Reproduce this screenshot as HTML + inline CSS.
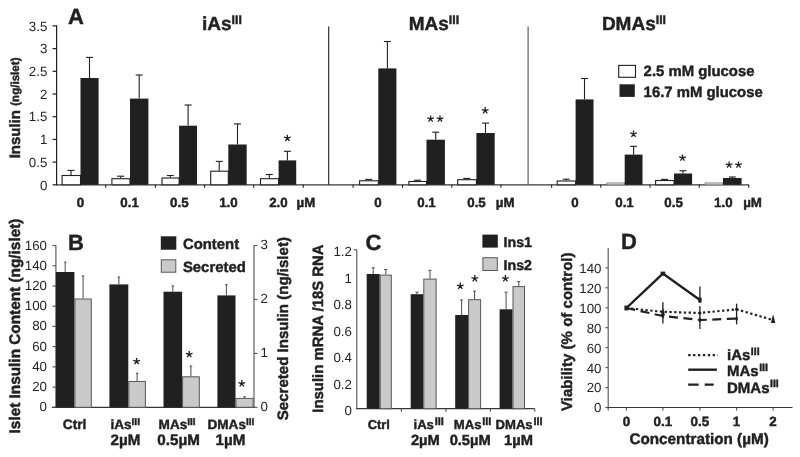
<!DOCTYPE html><html><head><meta charset="utf-8"><title>Figure</title><style>html,body{margin:0;padding:0;background:#fff}svg{display:block;filter:grayscale(1)}text{font-family:"Liberation Sans",sans-serif;fill:#231f20;text-rendering:geometricPrecision}text[font-weight=bold]{stroke:#231f20;stroke-width:0.45px;stroke-linejoin:round}</style></head><body>
<svg width="800" height="457" viewBox="0 0 800 457">
<rect x="0.0" y="0.0" width="800.0" height="457.0" fill="#fff"/>
<line x1="56.6" y1="25.3" x2="56.6" y2="185.4" stroke="#231f20" stroke-width="1.2" />
<line x1="56.6" y1="184.8" x2="748.9" y2="184.8" stroke="#3a3637" stroke-width="1.3" />
<line x1="52.6" y1="184.8" x2="56.6" y2="184.8" stroke="#231f20" stroke-width="1.2" />
<text x="47.3" y="189.5" font-size="13.3" text-anchor="end" >0</text>
<line x1="52.6" y1="162.1" x2="56.6" y2="162.1" stroke="#231f20" stroke-width="1.2" />
<text x="47.3" y="166.8" font-size="13.3" text-anchor="end" >0.5</text>
<line x1="52.6" y1="139.4" x2="56.6" y2="139.4" stroke="#231f20" stroke-width="1.2" />
<text x="47.3" y="144.1" font-size="13.3" text-anchor="end" >1</text>
<line x1="52.6" y1="116.7" x2="56.6" y2="116.7" stroke="#231f20" stroke-width="1.2" />
<text x="47.3" y="121.4" font-size="13.3" text-anchor="end" >1.5</text>
<line x1="52.6" y1="94.0" x2="56.6" y2="94.0" stroke="#231f20" stroke-width="1.2" />
<text x="47.3" y="98.7" font-size="13.3" text-anchor="end" >2</text>
<line x1="52.6" y1="71.3" x2="56.6" y2="71.3" stroke="#231f20" stroke-width="1.2" />
<text x="47.3" y="76.0" font-size="13.3" text-anchor="end" >2.5</text>
<line x1="52.6" y1="48.6" x2="56.6" y2="48.6" stroke="#231f20" stroke-width="1.2" />
<text x="47.3" y="53.3" font-size="13.3" text-anchor="end" >3</text>
<line x1="52.6" y1="25.9" x2="56.6" y2="25.9" stroke="#231f20" stroke-width="1.2" />
<text x="47.3" y="30.6" font-size="13.3" text-anchor="end" >3.5</text>
<line x1="105.7" y1="184.8" x2="105.7" y2="187.8" stroke="#231f20" stroke-width="1.1" />
<line x1="155.4" y1="184.8" x2="155.4" y2="187.8" stroke="#231f20" stroke-width="1.1" />
<line x1="204.6" y1="184.8" x2="204.6" y2="187.8" stroke="#231f20" stroke-width="1.1" />
<line x1="253.7" y1="184.8" x2="253.7" y2="187.8" stroke="#231f20" stroke-width="1.1" />
<line x1="303.3" y1="184.8" x2="303.3" y2="187.8" stroke="#231f20" stroke-width="1.1" />
<line x1="353.1" y1="184.8" x2="353.1" y2="187.8" stroke="#231f20" stroke-width="1.1" />
<line x1="402.6" y1="184.8" x2="402.6" y2="187.8" stroke="#231f20" stroke-width="1.1" />
<line x1="451.8" y1="184.8" x2="451.8" y2="187.8" stroke="#231f20" stroke-width="1.1" />
<line x1="500.9" y1="184.8" x2="500.9" y2="187.8" stroke="#231f20" stroke-width="1.1" />
<line x1="551.6" y1="184.8" x2="551.6" y2="187.8" stroke="#231f20" stroke-width="1.1" />
<line x1="600.8" y1="184.8" x2="600.8" y2="187.8" stroke="#231f20" stroke-width="1.1" />
<line x1="650.0" y1="184.8" x2="650.0" y2="187.8" stroke="#231f20" stroke-width="1.1" />
<line x1="699.2" y1="184.8" x2="699.2" y2="187.8" stroke="#231f20" stroke-width="1.1" />
<line x1="748.7" y1="184.8" x2="748.7" y2="187.8" stroke="#231f20" stroke-width="1.1" />
<line x1="328.7" y1="26.4" x2="328.7" y2="184.8" stroke="#231f20" stroke-width="1.1" />
<line x1="528.1" y1="26.4" x2="528.1" y2="184.8" stroke="#555152" stroke-width="1.1" />
<text x="68.0" y="24.4" font-size="22" font-weight="bold" text-anchor="start" >A</text>
<rect x="62.1" y="175.5" width="18.4" height="9.3" fill="#fff" stroke="#231f20" stroke-width="1.1"/>
<rect x="80.5" y="78.0" width="18.1" height="106.8" fill="#231f20"/>
<line x1="71.0" y1="175.0" x2="71.0" y2="170.4" stroke="#231f20" stroke-width="1.1" />
<line x1="67.5" y1="170.4" x2="74.5" y2="170.4" stroke="#231f20" stroke-width="1.1" />
<line x1="89.5" y1="78.0" x2="89.5" y2="57.4" stroke="#231f20" stroke-width="1.1" />
<line x1="86.0" y1="57.4" x2="93.0" y2="57.4" stroke="#231f20" stroke-width="1.1" />
<rect x="111.9" y="178.7" width="18.1" height="6.1" fill="#fff" stroke="#231f20" stroke-width="1.1"/>
<rect x="130.0" y="98.6" width="18.4" height="86.2" fill="#231f20"/>
<line x1="120.7" y1="178.2" x2="120.7" y2="176.2" stroke="#231f20" stroke-width="1.1" />
<line x1="117.2" y1="176.2" x2="124.2" y2="176.2" stroke="#231f20" stroke-width="1.1" />
<line x1="139.2" y1="98.6" x2="139.2" y2="75.0" stroke="#231f20" stroke-width="1.1" />
<line x1="135.7" y1="75.0" x2="142.7" y2="75.0" stroke="#231f20" stroke-width="1.1" />
<rect x="162.0" y="178.0" width="17.1" height="6.8" fill="#fff" stroke="#231f20" stroke-width="1.1"/>
<rect x="179.1" y="125.7" width="17.9" height="59.1" fill="#231f20"/>
<line x1="170.3" y1="177.5" x2="170.3" y2="175.5" stroke="#231f20" stroke-width="1.1" />
<line x1="166.8" y1="175.5" x2="173.8" y2="175.5" stroke="#231f20" stroke-width="1.1" />
<line x1="188.1" y1="125.7" x2="188.1" y2="105.0" stroke="#231f20" stroke-width="1.1" />
<line x1="184.6" y1="105.0" x2="191.6" y2="105.0" stroke="#231f20" stroke-width="1.1" />
<rect x="210.7" y="171.2" width="17.6" height="13.6" fill="#fff" stroke="#231f20" stroke-width="1.1"/>
<rect x="228.3" y="144.5" width="18.4" height="40.3" fill="#231f20"/>
<line x1="219.2" y1="170.7" x2="219.2" y2="161.4" stroke="#231f20" stroke-width="1.1" />
<line x1="215.8" y1="161.4" x2="222.8" y2="161.4" stroke="#231f20" stroke-width="1.1" />
<line x1="237.5" y1="144.5" x2="237.5" y2="123.9" stroke="#231f20" stroke-width="1.1" />
<line x1="234.0" y1="123.9" x2="241.0" y2="123.9" stroke="#231f20" stroke-width="1.1" />
<rect x="260.5" y="178.7" width="18.1" height="6.1" fill="#fff" stroke="#231f20" stroke-width="1.1"/>
<rect x="278.6" y="160.4" width="17.6" height="24.4" fill="#231f20"/>
<line x1="269.3" y1="178.2" x2="269.3" y2="174.5" stroke="#231f20" stroke-width="1.1" />
<line x1="265.8" y1="174.5" x2="272.8" y2="174.5" stroke="#231f20" stroke-width="1.1" />
<line x1="287.4" y1="160.4" x2="287.4" y2="151.3" stroke="#231f20" stroke-width="1.1" />
<line x1="283.9" y1="151.3" x2="290.9" y2="151.3" stroke="#231f20" stroke-width="1.1" />
<rect x="359.6" y="180.8" width="18.7" height="4.0" fill="#fff" stroke="#231f20" stroke-width="1.1"/>
<rect x="378.3" y="68.4" width="18.1" height="116.4" fill="#231f20"/>
<line x1="368.7" y1="180.3" x2="368.7" y2="179.4" stroke="#231f20" stroke-width="1.1" />
<line x1="365.2" y1="179.4" x2="372.2" y2="179.4" stroke="#231f20" stroke-width="1.1" />
<line x1="387.4" y1="68.4" x2="387.4" y2="41.5" stroke="#231f20" stroke-width="1.1" />
<line x1="383.9" y1="41.5" x2="390.9" y2="41.5" stroke="#231f20" stroke-width="1.1" />
<rect x="408.9" y="181.5" width="17.6" height="3.3" fill="#fff" stroke="#231f20" stroke-width="1.1"/>
<rect x="426.5" y="139.7" width="18.4" height="45.1" fill="#231f20"/>
<line x1="417.4" y1="181.0" x2="417.4" y2="180.2" stroke="#231f20" stroke-width="1.1" />
<line x1="413.9" y1="180.2" x2="420.9" y2="180.2" stroke="#231f20" stroke-width="1.1" />
<line x1="435.7" y1="139.7" x2="435.7" y2="132.2" stroke="#231f20" stroke-width="1.1" />
<line x1="432.2" y1="132.2" x2="439.2" y2="132.2" stroke="#231f20" stroke-width="1.1" />
<rect x="457.7" y="179.7" width="18.7" height="5.1" fill="#fff" stroke="#231f20" stroke-width="1.1"/>
<rect x="476.4" y="133.0" width="18.3" height="51.8" fill="#231f20"/>
<line x1="466.8" y1="179.2" x2="466.8" y2="178.4" stroke="#231f20" stroke-width="1.1" />
<line x1="463.3" y1="178.4" x2="470.3" y2="178.4" stroke="#231f20" stroke-width="1.1" />
<line x1="485.5" y1="133.0" x2="485.5" y2="123.1" stroke="#231f20" stroke-width="1.1" />
<line x1="482.0" y1="123.1" x2="489.0" y2="123.1" stroke="#231f20" stroke-width="1.1" />
<rect x="557.2" y="181.0" width="18.4" height="3.8" fill="#fff" stroke="#231f20" stroke-width="1.1"/>
<rect x="575.6" y="99.4" width="17.9" height="85.4" fill="#231f20"/>
<line x1="566.2" y1="180.5" x2="566.2" y2="179.2" stroke="#231f20" stroke-width="1.1" />
<line x1="562.7" y1="179.2" x2="569.7" y2="179.2" stroke="#231f20" stroke-width="1.1" />
<line x1="584.5" y1="99.4" x2="584.5" y2="78.5" stroke="#231f20" stroke-width="1.1" />
<line x1="581.0" y1="78.5" x2="588.0" y2="78.5" stroke="#231f20" stroke-width="1.1" />
<rect x="607.0" y="183.0" width="17.7" height="1.8" fill="#fff" stroke="#8a8788" stroke-width="1.1"/>
<rect x="624.7" y="154.6" width="17.8" height="30.2" fill="#231f20"/>
<line x1="633.6" y1="154.6" x2="633.6" y2="146.3" stroke="#231f20" stroke-width="1.1" />
<line x1="630.1" y1="146.3" x2="637.1" y2="146.3" stroke="#231f20" stroke-width="1.1" />
<rect x="655.6" y="180.5" width="18.4" height="4.3" fill="#fff" stroke="#231f20" stroke-width="1.1"/>
<rect x="674.0" y="173.5" width="18.1" height="11.3" fill="#231f20"/>
<line x1="664.5" y1="180.0" x2="664.5" y2="179.4" stroke="#231f20" stroke-width="1.1" />
<line x1="661.0" y1="179.4" x2="668.0" y2="179.4" stroke="#231f20" stroke-width="1.1" />
<line x1="683.0" y1="173.5" x2="683.0" y2="170.7" stroke="#231f20" stroke-width="1.1" />
<line x1="679.5" y1="170.7" x2="686.5" y2="170.7" stroke="#231f20" stroke-width="1.1" />
<rect x="705.2" y="183.0" width="17.8" height="1.8" fill="#fff" stroke="#8a8788" stroke-width="1.1"/>
<rect x="723.0" y="178.0" width="18.6" height="6.8" fill="#231f20"/>
<line x1="732.3" y1="178.0" x2="732.3" y2="177.0" stroke="#231f20" stroke-width="1.1" />
<line x1="728.8" y1="177.0" x2="735.8" y2="177.0" stroke="#231f20" stroke-width="1.1" />
<path d="M287.4,138.2L287.40,134.70M287.4,138.2L290.73,137.12M287.4,138.2L289.46,141.03M287.4,138.2L285.34,141.03M287.4,138.2L284.07,137.12" stroke="#231f20" stroke-width="1.3" fill="none"/>
<path d="M430.6,118.9L430.60,115.40M430.6,118.9L433.93,117.82M430.6,118.9L432.66,121.73M430.6,118.9L428.54,121.73M430.6,118.9L427.27,117.82" stroke="#231f20" stroke-width="1.3" fill="none"/>
<path d="M440.0,118.9L440.00,115.40M440.0,118.9L443.33,117.82M440.0,118.9L442.06,121.73M440.0,118.9L437.94,121.73M440.0,118.9L436.67,117.82" stroke="#231f20" stroke-width="1.3" fill="none"/>
<path d="M485.2,110.6L485.20,107.10M485.2,110.6L488.53,109.52M485.2,110.6L487.26,113.43M485.2,110.6L483.14,113.43M485.2,110.6L481.87,109.52" stroke="#231f20" stroke-width="1.3" fill="none"/>
<path d="M633.5,134.0L633.50,130.50M633.5,134.0L636.83,132.92M633.5,134.0L635.56,136.83M633.5,134.0L631.44,136.83M633.5,134.0L630.17,132.92" stroke="#231f20" stroke-width="1.3" fill="none"/>
<path d="M682.5,157.9L682.50,154.40M682.5,157.9L685.83,156.82M682.5,157.9L684.56,160.73M682.5,157.9L680.44,160.73M682.5,157.9L679.17,156.82" stroke="#231f20" stroke-width="1.3" fill="none"/>
<path d="M729.1,164.9L729.10,161.40M729.1,164.9L732.43,163.82M729.1,164.9L731.16,167.73M729.1,164.9L727.04,167.73M729.1,164.9L725.77,163.82" stroke="#231f20" stroke-width="1.3" fill="none"/>
<path d="M738.5,164.9L738.50,161.40M738.5,164.9L741.83,163.82M738.5,164.9L740.56,167.73M738.5,164.9L736.44,167.73M738.5,164.9L735.17,163.82" stroke="#231f20" stroke-width="1.3" fill="none"/>
<text x="202.0" y="30.0" font-size="19" font-weight="bold" text-anchor="start" >iAs<tspan font-size="12.3" dy="-5.9" dx="0">III</tspan></text>
<text x="408.7" y="30.0" font-size="19" font-weight="bold" text-anchor="start" >MAs<tspan font-size="12.3" dy="-5.9" dx="0">III</tspan></text>
<text x="601.9" y="30.0" font-size="19" font-weight="bold" text-anchor="start" >DMAs<tspan font-size="12.3" dy="-5.9" dx="0">III</tspan></text>
<text x="80.5" y="206.7" font-size="13.3" font-weight="bold" text-anchor="middle" >0</text>
<text x="129.6" y="206.7" font-size="13.3" font-weight="bold" text-anchor="middle" >0.1</text>
<text x="179.3" y="206.7" font-size="13.3" font-weight="bold" text-anchor="middle" >0.5</text>
<text x="228.4" y="206.7" font-size="13.3" font-weight="bold" text-anchor="middle" >1.0</text>
<text x="278.4" y="206.7" font-size="13.3" font-weight="bold" text-anchor="middle" >2.0</text>
<text x="377.9" y="206.7" font-size="13.3" font-weight="bold" text-anchor="middle" >0</text>
<text x="426.5" y="206.7" font-size="13.3" font-weight="bold" text-anchor="middle" >0.1</text>
<text x="476.5" y="206.7" font-size="13.3" font-weight="bold" text-anchor="middle" >0.5</text>
<text x="575.0" y="206.7" font-size="13.3" font-weight="bold" text-anchor="middle" >0</text>
<text x="624.5" y="206.7" font-size="13.3" font-weight="bold" text-anchor="middle" >0.1</text>
<text x="673.6" y="206.7" font-size="13.3" font-weight="bold" text-anchor="middle" >0.5</text>
<text x="723.3" y="206.7" font-size="13.3" font-weight="bold" text-anchor="middle" >1.0</text>
<text x="296.6" y="206.7" font-size="13.3" font-weight="bold" text-anchor="start" >µM</text>
<text x="495.8" y="206.7" font-size="13.3" font-weight="bold" text-anchor="start" >µM</text>
<text x="743.2" y="206.7" font-size="13.3" font-weight="bold" text-anchor="start" >µM</text>
<rect x="618.7" y="65.4" width="16.8" height="11.9" fill="#fff" stroke="#231f20" stroke-width="1.1"/>
<rect x="619.5" y="84.3" width="15.3" height="12.6" fill="#231f20"/>
<text x="643.6" y="76.2" font-size="14.9" font-weight="bold" text-anchor="start" >2.5 mM glucose</text>
<text x="643.6" y="96.5" font-size="14.9" font-weight="bold" text-anchor="start" >16.7 mM glucose</text>
<text transform="translate(20.3,158.3) rotate(-90)" font-weight="bold" font-size="15">Insulin <tspan font-size="11.6" dy="-1.2">(ng/islet)</tspan></text>
<line x1="55.9" y1="245.0" x2="55.9" y2="407.8" stroke="#555152" stroke-width="1.1" />
<line x1="51.9" y1="407.3" x2="255.0" y2="407.3" stroke="#3a3637" stroke-width="1.2" />
<line x1="52.5" y1="407.3" x2="55.9" y2="407.3" stroke="#555152" stroke-width="1.1" />
<text x="47.0" y="411.3" font-size="13.3" text-anchor="end" >0</text>
<line x1="52.5" y1="387.1" x2="55.9" y2="387.1" stroke="#555152" stroke-width="1.1" />
<text x="47.0" y="391.1" font-size="13.3" text-anchor="end" >20</text>
<line x1="52.5" y1="366.9" x2="55.9" y2="366.9" stroke="#555152" stroke-width="1.1" />
<text x="47.0" y="370.9" font-size="13.3" text-anchor="end" >40</text>
<line x1="52.5" y1="346.6" x2="55.9" y2="346.6" stroke="#555152" stroke-width="1.1" />
<text x="47.0" y="350.6" font-size="13.3" text-anchor="end" >60</text>
<line x1="52.5" y1="326.4" x2="55.9" y2="326.4" stroke="#555152" stroke-width="1.1" />
<text x="47.0" y="330.4" font-size="13.3" text-anchor="end" >80</text>
<line x1="52.5" y1="306.2" x2="55.9" y2="306.2" stroke="#555152" stroke-width="1.1" />
<text x="47.0" y="310.2" font-size="13.3" text-anchor="end" >100</text>
<line x1="52.5" y1="286.0" x2="55.9" y2="286.0" stroke="#555152" stroke-width="1.1" />
<text x="47.0" y="290.0" font-size="13.3" text-anchor="end" >120</text>
<line x1="52.5" y1="265.7" x2="55.9" y2="265.7" stroke="#555152" stroke-width="1.1" />
<text x="47.0" y="269.7" font-size="13.3" text-anchor="end" >140</text>
<line x1="52.5" y1="245.5" x2="55.9" y2="245.5" stroke="#555152" stroke-width="1.1" />
<text x="47.0" y="249.5" font-size="13.3" text-anchor="end" >160</text>
<line x1="254.0" y1="245.0" x2="254.0" y2="407.8" stroke="#555152" stroke-width="1.1" />
<line x1="254.0" y1="407.3" x2="257.5" y2="407.3" stroke="#555152" stroke-width="1.1" />
<text x="260.5" y="411.0" font-size="13.3" text-anchor="start" >0</text>
<line x1="254.0" y1="353.4" x2="257.5" y2="353.4" stroke="#555152" stroke-width="1.1" />
<text x="260.5" y="357.1" font-size="13.3" text-anchor="start" >1</text>
<line x1="254.0" y1="299.4" x2="257.5" y2="299.4" stroke="#555152" stroke-width="1.1" />
<text x="260.5" y="303.1" font-size="13.3" text-anchor="start" >2</text>
<line x1="254.0" y1="245.5" x2="257.5" y2="245.5" stroke="#555152" stroke-width="1.1" />
<text x="260.5" y="249.2" font-size="13.3" text-anchor="start" >3</text>
<text x="68.0" y="249.8" font-size="22" font-weight="bold" text-anchor="start" >B</text>
<rect x="55.9" y="272.0" width="18.5" height="135.3" fill="#231f20"/>
<rect x="74.9" y="299.0" width="16.4" height="108.3" fill="#c9cacc" stroke="#58585a" stroke-width="1"/>
<line x1="65.2" y1="272.0" x2="65.2" y2="262.2" stroke="#3a3637" stroke-width="0.9" />
<line x1="63.9" y1="262.2" x2="66.4" y2="262.2" stroke="#3a3637" stroke-width="0.9" />
<line x1="83.1" y1="298.5" x2="83.1" y2="276.0" stroke="#3a3637" stroke-width="0.9" />
<line x1="81.8" y1="276.0" x2="84.3" y2="276.0" stroke="#3a3637" stroke-width="0.9" />
<rect x="109.4" y="284.4" width="18.9" height="122.9" fill="#231f20"/>
<rect x="128.8" y="381.5" width="16.6" height="25.8" fill="#c9cacc" stroke="#58585a" stroke-width="1"/>
<line x1="118.9" y1="284.4" x2="118.9" y2="277.0" stroke="#3a3637" stroke-width="0.9" />
<line x1="117.6" y1="277.0" x2="120.1" y2="277.0" stroke="#3a3637" stroke-width="0.9" />
<line x1="137.1" y1="381.0" x2="137.1" y2="373.3" stroke="#3a3637" stroke-width="0.9" />
<line x1="135.9" y1="373.3" x2="138.4" y2="373.3" stroke="#3a3637" stroke-width="0.9" />
<rect x="163.5" y="291.7" width="18.6" height="115.6" fill="#231f20"/>
<rect x="182.6" y="376.8" width="16.7" height="30.5" fill="#c9cacc" stroke="#58585a" stroke-width="1"/>
<line x1="172.8" y1="291.7" x2="172.8" y2="285.9" stroke="#3a3637" stroke-width="0.9" />
<line x1="171.6" y1="285.9" x2="174.1" y2="285.9" stroke="#3a3637" stroke-width="0.9" />
<line x1="190.9" y1="376.3" x2="190.9" y2="366.0" stroke="#3a3637" stroke-width="0.9" />
<line x1="189.7" y1="366.0" x2="192.2" y2="366.0" stroke="#3a3637" stroke-width="0.9" />
<rect x="217.4" y="295.4" width="18.1" height="111.9" fill="#231f20"/>
<rect x="236.0" y="398.4" width="17.1" height="8.9" fill="#c9cacc" stroke="#58585a" stroke-width="1"/>
<line x1="226.4" y1="295.4" x2="226.4" y2="284.6" stroke="#3a3637" stroke-width="0.9" />
<line x1="225.2" y1="284.6" x2="227.7" y2="284.6" stroke="#3a3637" stroke-width="0.9" />
<line x1="244.6" y1="397.9" x2="244.6" y2="396.8" stroke="#3a3637" stroke-width="0.9" />
<line x1="243.3" y1="396.8" x2="245.8" y2="396.8" stroke="#3a3637" stroke-width="0.9" />
<path d="M136.6,361.4L136.60,357.90M136.6,361.4L139.93,360.32M136.6,361.4L138.66,364.23M136.6,361.4L134.54,364.23M136.6,361.4L133.27,360.32" stroke="#231f20" stroke-width="1.3" fill="none"/>
<path d="M189.2,354.4L189.20,350.90M189.2,354.4L192.53,353.32M189.2,354.4L191.26,357.23M189.2,354.4L187.14,357.23M189.2,354.4L185.87,353.32" stroke="#231f20" stroke-width="1.3" fill="none"/>
<path d="M241.8,383.6L241.80,380.10M241.8,383.6L245.13,382.52M241.8,383.6L243.86,386.43M241.8,383.6L239.74,386.43M241.8,383.6L238.47,382.52" stroke="#231f20" stroke-width="1.3" fill="none"/>
<rect x="160.8" y="236.3" width="15.5" height="13.4" fill="#231f20"/>
<rect x="161.3" y="259.8" width="14.5" height="12.4" fill="#c9cacc" stroke="#58585a" stroke-width="1"/>
<text x="182.9" y="249.4" font-size="14.9" font-weight="bold" text-anchor="start" >Content</text>
<text x="182.9" y="271.8" font-size="14.9" font-weight="bold" text-anchor="start" >Secreted</text>
<text x="74.6" y="429.4" font-size="13.7" font-weight="bold" text-anchor="middle" >Ctrl</text>
<text x="125.2" y="429.4" font-size="13.6" font-weight="bold" text-anchor="middle" >iAs<tspan font-size="10" dy="-4.9" dx="0">III</tspan></text>
<text x="125.4" y="445.0" font-size="15.2" font-weight="bold" text-anchor="middle" >2µM</text>
<text x="177.1" y="429.4" font-size="13.6" font-weight="bold" text-anchor="middle" >MAs<tspan font-size="10" dy="-4.9" dx="0">III</tspan></text>
<text x="178.6" y="445.0" font-size="15.2" font-weight="bold" text-anchor="middle" >0.5µM</text>
<text x="230.9" y="429.4" font-size="13.6" font-weight="bold" text-anchor="middle" >DMAs<tspan font-size="10" dy="-4.9" dx="0">III</tspan></text>
<text x="230.5" y="445.0" font-size="15.2" font-weight="bold" text-anchor="middle" >1µM</text>
<text transform="translate(20.0,433.4) rotate(-90)" font-size="15.35" font-weight="bold" text-anchor="start">Islet Insulin Content (ng/islet)</text>
<text transform="translate(288.0,420.2) rotate(-90)" font-size="15.05" font-weight="bold" text-anchor="start">Secreted Insulin (ng/islet)</text>
<line x1="356.8" y1="249.8" x2="356.8" y2="409.2" stroke="#555152" stroke-width="1.1" />
<line x1="356.3" y1="408.7" x2="534.8" y2="408.7" stroke="#3a3637" stroke-width="1.2" />
<text x="351.9" y="256.2" font-size="13.3" text-anchor="end" >1.2</text>
<text x="351.9" y="282.7" font-size="13.3" text-anchor="end" >1</text>
<text x="351.9" y="309.2" font-size="13.3" text-anchor="end" >0.8</text>
<text x="351.9" y="335.7" font-size="13.3" text-anchor="end" >0.6</text>
<text x="351.9" y="362.2" font-size="13.3" text-anchor="end" >0.4</text>
<text x="351.9" y="388.7" font-size="13.3" text-anchor="end" >0.2</text>
<text x="351.9" y="415.2" font-size="13.3" text-anchor="end" >0</text>
<line x1="353.8" y1="249.8" x2="356.8" y2="249.8" stroke="#555152" stroke-width="1.1" />
<line x1="401.4" y1="408.7" x2="401.4" y2="411.7" stroke="#555152" stroke-width="1.1" />
<line x1="445.9" y1="408.7" x2="445.9" y2="411.7" stroke="#555152" stroke-width="1.1" />
<line x1="490.4" y1="408.7" x2="490.4" y2="411.7" stroke="#555152" stroke-width="1.1" />
<line x1="534.8" y1="408.7" x2="534.8" y2="411.7" stroke="#555152" stroke-width="1.1" />
<text x="365.5" y="250.2" font-size="22" font-weight="bold" text-anchor="start" >C</text>
<rect x="366.7" y="274.0" width="13.0" height="134.7" fill="#231f20"/>
<rect x="380.2" y="275.1" width="11.1" height="133.6" fill="#c9cacc" stroke="#58585a" stroke-width="1"/>
<line x1="373.2" y1="274.0" x2="373.2" y2="267.8" stroke="#3a3637" stroke-width="0.9" />
<line x1="371.7" y1="267.8" x2="374.7" y2="267.8" stroke="#3a3637" stroke-width="0.9" />
<line x1="385.8" y1="274.6" x2="385.8" y2="269.5" stroke="#3a3637" stroke-width="0.9" />
<line x1="384.2" y1="269.5" x2="387.2" y2="269.5" stroke="#3a3637" stroke-width="0.9" />
<rect x="410.7" y="294.2" width="12.6" height="114.5" fill="#231f20"/>
<rect x="423.8" y="279.1" width="12.3" height="129.6" fill="#c9cacc" stroke="#58585a" stroke-width="1"/>
<line x1="417.0" y1="294.2" x2="417.0" y2="292.2" stroke="#3a3637" stroke-width="0.9" />
<line x1="415.5" y1="292.2" x2="418.5" y2="292.2" stroke="#3a3637" stroke-width="0.9" />
<line x1="430.0" y1="278.6" x2="430.0" y2="270.3" stroke="#3a3637" stroke-width="0.9" />
<line x1="428.5" y1="270.3" x2="431.5" y2="270.3" stroke="#3a3637" stroke-width="0.9" />
<rect x="455.2" y="315.0" width="12.9" height="93.7" fill="#231f20"/>
<rect x="468.6" y="299.7" width="12.0" height="109.0" fill="#c9cacc" stroke="#58585a" stroke-width="1"/>
<line x1="461.6" y1="315.0" x2="461.6" y2="300.0" stroke="#3a3637" stroke-width="0.9" />
<line x1="460.1" y1="300.0" x2="463.1" y2="300.0" stroke="#3a3637" stroke-width="0.9" />
<line x1="474.6" y1="299.2" x2="474.6" y2="291.2" stroke="#3a3637" stroke-width="0.9" />
<line x1="473.1" y1="291.2" x2="476.1" y2="291.2" stroke="#3a3637" stroke-width="0.9" />
<rect x="499.6" y="309.3" width="12.9" height="99.4" fill="#231f20"/>
<rect x="513.0" y="286.6" width="11.5" height="122.1" fill="#c9cacc" stroke="#58585a" stroke-width="1"/>
<line x1="506.1" y1="309.3" x2="506.1" y2="292.2" stroke="#3a3637" stroke-width="0.9" />
<line x1="504.6" y1="292.2" x2="507.6" y2="292.2" stroke="#3a3637" stroke-width="0.9" />
<line x1="518.8" y1="286.1" x2="518.8" y2="281.6" stroke="#3a3637" stroke-width="0.9" />
<line x1="517.2" y1="281.6" x2="520.2" y2="281.6" stroke="#3a3637" stroke-width="0.9" />
<path d="M460.3,286.1L460.30,282.60M460.3,286.1L463.63,285.02M460.3,286.1L462.36,288.93M460.3,286.1L458.24,288.93M460.3,286.1L456.97,285.02" stroke="#231f20" stroke-width="1.3" fill="none"/>
<path d="M474.8,278.6L474.80,275.10M474.8,278.6L478.13,277.52M474.8,278.6L476.86,281.43M474.8,278.6L472.74,281.43M474.8,278.6L471.47,277.52" stroke="#231f20" stroke-width="1.3" fill="none"/>
<path d="M505.4,278.6L505.40,275.10M505.4,278.6L508.73,277.52M505.4,278.6L507.46,281.43M505.4,278.6L503.34,281.43M505.4,278.6L502.07,277.52" stroke="#231f20" stroke-width="1.3" fill="none"/>
<rect x="482.4" y="234.6" width="15.4" height="13.0" fill="#231f20"/>
<rect x="482.9" y="257.7" width="14.4" height="12.8" fill="#c9cacc" stroke="#58585a" stroke-width="1"/>
<text x="503.6" y="247.1" font-size="14.2" font-weight="bold" text-anchor="start" >Ins1</text>
<text x="503.6" y="269.8" font-size="14.2" font-weight="bold" text-anchor="start" >Ins2</text>
<text x="378.8" y="429.3" font-size="12.9" font-weight="bold" text-anchor="middle" >Ctrl</text>
<text x="428.7" y="429.3" font-size="13.1" font-weight="bold" text-anchor="middle" >iAs<tspan font-size="11" dy="-4.6" dx="0.8">III</tspan></text>
<text x="425.4" y="445.4" font-size="14.7" font-weight="bold" text-anchor="middle" >2µM</text>
<text x="472.6" y="429.3" font-size="13.1" font-weight="bold" text-anchor="middle" >MAs<tspan font-size="11" dy="-4.6" dx="0.8">III</tspan></text>
<text x="470.2" y="445.4" font-size="14.7" font-weight="bold" text-anchor="middle" >0.5µM</text>
<text x="519.1" y="429.3" font-size="13.1" font-weight="bold" text-anchor="middle" >DMAs<tspan font-size="11" dy="-4.6" dx="0.8">III</tspan></text>
<text x="518.5" y="445.4" font-size="14.7" font-weight="bold" text-anchor="middle" >1µM</text>
<text transform="translate(322.9,412.7) rotate(-90)" font-size="14.9" font-weight="bold" text-anchor="start">Insulin mRNA /18S RNA</text>
<line x1="608.2" y1="248.1" x2="608.2" y2="410.5" stroke="#555152" stroke-width="1.1" />
<line x1="606.2" y1="407.5" x2="792.5" y2="407.5" stroke="#3a3637" stroke-width="1.2" />
<line x1="605.4" y1="407.5" x2="608.2" y2="407.5" stroke="#555152" stroke-width="1.1" />
<text x="601.5" y="412.4" font-size="13.3" text-anchor="end" >0</text>
<line x1="605.4" y1="387.6" x2="608.2" y2="387.6" stroke="#555152" stroke-width="1.1" />
<text x="601.5" y="392.4" font-size="13.3" text-anchor="end" >20</text>
<line x1="605.4" y1="367.6" x2="608.2" y2="367.6" stroke="#555152" stroke-width="1.1" />
<text x="601.5" y="372.5" font-size="13.3" text-anchor="end" >40</text>
<line x1="605.4" y1="347.6" x2="608.2" y2="347.6" stroke="#555152" stroke-width="1.1" />
<text x="601.5" y="352.5" font-size="13.3" text-anchor="end" >60</text>
<line x1="605.4" y1="327.7" x2="608.2" y2="327.7" stroke="#555152" stroke-width="1.1" />
<text x="601.5" y="332.6" font-size="13.3" text-anchor="end" >80</text>
<line x1="605.4" y1="307.8" x2="608.2" y2="307.8" stroke="#555152" stroke-width="1.1" />
<text x="601.5" y="312.6" font-size="13.3" text-anchor="end" >100</text>
<line x1="605.4" y1="287.8" x2="608.2" y2="287.8" stroke="#555152" stroke-width="1.1" />
<text x="601.5" y="292.7" font-size="13.3" text-anchor="end" >120</text>
<line x1="605.4" y1="267.9" x2="608.2" y2="267.9" stroke="#555152" stroke-width="1.1" />
<text x="601.5" y="272.8" font-size="13.3" text-anchor="end" >140</text>
<line x1="626.4" y1="407.5" x2="626.4" y2="410.5" stroke="#555152" stroke-width="1.1" />
<line x1="662.9" y1="407.5" x2="662.9" y2="410.5" stroke="#555152" stroke-width="1.1" />
<line x1="699.9" y1="407.5" x2="699.9" y2="410.5" stroke="#555152" stroke-width="1.1" />
<line x1="736.6" y1="407.5" x2="736.6" y2="410.5" stroke="#555152" stroke-width="1.1" />
<line x1="773.1" y1="407.5" x2="773.1" y2="410.5" stroke="#555152" stroke-width="1.1" />
<text x="621.0" y="249.4" font-size="22" font-weight="bold" text-anchor="start" >D</text>
<polyline fill="none" stroke="#231f20" stroke-width="2.2" stroke-dasharray="2.3 2.5" points="626.4,308.0 662.9,311.8 699.9,313.0 736.6,309.3 773.1,320.1"/>
<polyline fill="none" stroke="#231f20" stroke-width="2.2" stroke-dasharray="9 5.5" points="626.4,308.0 662.9,316.0 699.9,320.0 736.6,318.6"/>
<polyline fill="none" stroke="#231f20" stroke-width="2.4"  points="626.4,308.0 662.9,273.6 699.9,300.0"/>
<line x1="662.9" y1="302.2" x2="662.9" y2="323.6" stroke="#231f20" stroke-width="1.3" />
<line x1="699.9" y1="306.0" x2="699.9" y2="328.9" stroke="#231f20" stroke-width="1.3" />
<line x1="736.6" y1="303.7" x2="736.6" y2="324.4" stroke="#231f20" stroke-width="1.3" />
<line x1="699.9" y1="286.6" x2="699.9" y2="303.0" stroke="#231f20" stroke-width="1.3" />
<rect x="624.4" y="305.6" width="4.2" height="4.8" fill="#231f20"/>
<rect x="660.6" y="271.6" width="4.6" height="4.0" fill="#231f20"/>
<rect x="698.2" y="297.6" width="3.4" height="4.8" fill="#231f20"/>
<polygon points="773.1,314.3 775.3,323 770.9,323" fill="#231f20"/>
<polygon points="662.9,307.5 665,315.5 660.8,315.5" fill="#231f20"/>
<circle cx="699.9" cy="313" r="1.6" fill="#231f20"/>
<circle cx="736.6" cy="309.3" r="1.6" fill="#231f20"/>
<ellipse cx="662.9" cy="316" rx="1.3" ry="2.2" fill="#231f20"/>
<ellipse cx="699.9" cy="320" rx="1.3" ry="2.2" fill="#231f20"/>
<ellipse cx="736.6" cy="318.6" rx="1.3" ry="2.2" fill="#231f20"/>
<line x1="688.2" y1="355.2" x2="718.0" y2="355.2" stroke="#231f20" stroke-width="2.2" stroke-dasharray="2.3 2.6"/>
<line x1="688.2" y1="369.7" x2="716.9" y2="369.7" stroke="#231f20" stroke-width="2.4" />
<line x1="688.2" y1="384.6" x2="717.5" y2="384.6" stroke="#231f20" stroke-width="2.2" stroke-dasharray="10.5 6 9 20"/>
<text x="727.0" y="360.2" font-size="15" font-weight="bold" text-anchor="start" >iAs<tspan font-size="10.5" dy="-5.4" dx="0.5">III</tspan></text>
<text x="727.0" y="376.3" font-size="15" font-weight="bold" text-anchor="start" >MAs<tspan font-size="10.5" dy="-5.4" dx="0.5">III</tspan></text>
<text x="727.0" y="392.8" font-size="15" font-weight="bold" text-anchor="start" >DMAs<tspan font-size="10.5" dy="-5.4" dx="0.5">III</tspan></text>
<text x="626.4" y="425.6" font-size="13.4" font-weight="bold" text-anchor="middle" >0</text>
<text x="662.9" y="425.6" font-size="13.4" font-weight="bold" text-anchor="middle" >0.1</text>
<text x="699.9" y="425.6" font-size="13.4" font-weight="bold" text-anchor="middle" >0.5</text>
<text x="736.6" y="425.6" font-size="13.4" font-weight="bold" text-anchor="middle" >1</text>
<text x="773.1" y="425.6" font-size="13.4" font-weight="bold" text-anchor="middle" >2</text>
<text x="699.1" y="443.5" font-size="15.25" font-weight="bold" text-anchor="middle" >Concentration (µM)</text>
<text transform="translate(571.7,411.0) rotate(-90)" font-size="15.05" font-weight="bold" text-anchor="start">Viability (% of control)</text>
</svg></body></html>
